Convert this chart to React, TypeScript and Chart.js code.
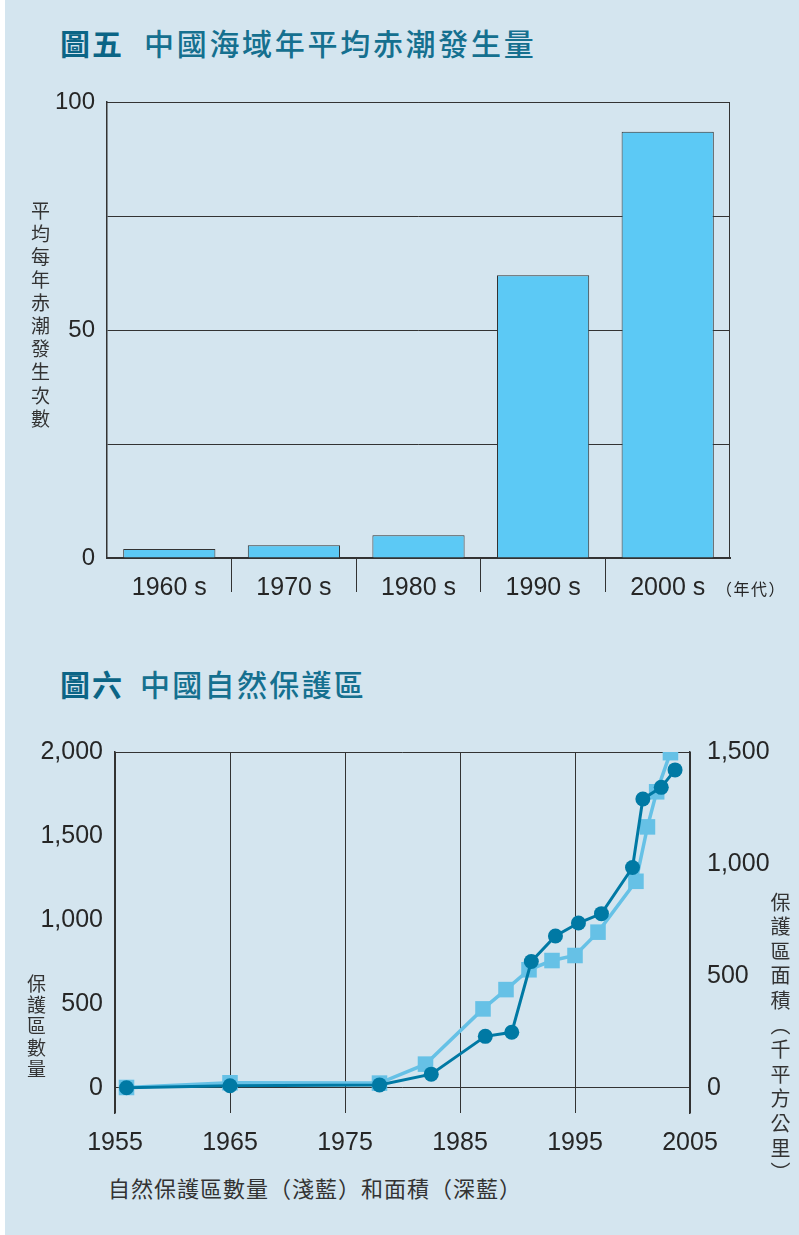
import React, { useEffect, useRef } from 'react';
import { Chart, registerables } from 'chart.js';

Chart.register(...registerables);

// ---------- Data: 圖五 ----------
const DECADES = ['1960 s', '1970 s', '1980 s', '1990 s', '2000 s'];
const RED_TIDE_AVG = [2, 2.8, 5, 62, 93.5];
const BAR_Y_TICKS = [0, 25, 50, 75, 100];
const BAR_Y_LABELED = [0, 50, 100];

// ---------- Data: 圖六 ----------
const COUNT_YEARS = [1956, 1965, 1978, 1982, 1987, 1989, 1991, 1993, 1995, 1997, 2000.3, 2001.3, 2002.1, 2003.3];
const COUNT_VALUES = [2, 30, 28, 141, 470, 585, 703, 758, 788, 927, 1230, 1554, 1763, 1996];
const AREA_YEARS = [1956, 1965, 1978, 1982.5, 1987.2, 1989.5, 1991.2, 1993.3, 1995.3, 1997.3, 2000, 2000.9, 2002.5, 2003.7];
const AREA_VALUES = [0, 9, 13, 61, 230, 248, 564, 678, 736, 778, 984, 1290, 1342, 1420];
const YEAR_TICKS = [1955, 1965, 1975, 1985, 1995, 2005];
const COUNT_TICKS = [0, 500, 1000, 1500, 2000];
const AREA_TICKS = [0, 500, 1000, 1500];

const BG = '#d4e5ef';
const BAR = '#5cc9f5';
const DARK = '#0079a4';
const LIGHT = '#66c1e6';
const LINE = '#333333';
const TXT = '#262626';
const TITLE_BOLD = '#0b6586';
const TITLE = '#15708f';
const NUM_FONT = "'Liberation Sans', Arial, sans-serif";
const CJK_FONT = "'Noto Sans CJK TC', 'Noto Sans CJK SC', sans-serif";

const frameRight = {
  id: 'frameRight',
  afterDraw(chart: any) {
    const { ctx, chartArea } = chart;
    ctx.save();
    ctx.strokeStyle = LINE;
    ctx.lineWidth = 1;
    ctx.beginPath();
    ctx.moveTo(chartArea.left, chartArea.top + 0.5);
    ctx.lineTo(chartArea.right - 0.5, chartArea.top + 0.5);
    ctx.lineTo(chartArea.right - 0.5, chartArea.bottom);
    ctx.stroke();
    ctx.restore();
  },
};

function BarChart() {
  const ref = useRef<HTMLCanvasElement>(null);
  useEffect(() => {
    const chart = new Chart(ref.current as HTMLCanvasElement, {
      type: 'bar',
      data: {
        labels: DECADES,
        datasets: [
          {
            data: RED_TIDE_AVG,
            backgroundColor: BAR,
            borderColor: LINE,
            borderWidth: 1,
            barPercentage: 0.74,
            categoryPercentage: 1,
          },
        ],
      },
      options: {
        animation: false,
        responsive: false,
        maintainAspectRatio: false,
        layout: { padding: { top: 32, right: 69, left: 0, bottom: 0 } },
        plugins: { legend: { display: false }, tooltip: { enabled: false } },
        scales: {
          x: {
            grid: {
              offset: true,
              drawOnChartArea: false,
              drawTicks: true,
              tickLength: 34,
              color: (ctx: any) => (ctx.type === 'tick' && ctx.index > 0 ? LINE : 'rgba(0,0,0,0)'),
              lineWidth: 1,
            },
            border: { display: true, color: LINE, width: 2 },
            ticks: {
              padding: -19,
              autoSkip: false,
              maxRotation: 0,
              color: TXT,
              font: { family: NUM_FONT, size: 25 },
            },
            afterFit: (s: any) => {
              s.height = 62;
            },
          },
          y: {
            min: 0,
            max: 100,
            afterBuildTicks: (a: any) => {
              a.ticks = BAR_Y_TICKS.map((v) => ({ value: v }));
            },
            ticks: {
              callback: (v: any) => (BAR_Y_LABELED.includes(Number(v)) ? String(v) : ''),
              padding: 12,
              color: TXT,
              font: { family: NUM_FONT, size: 24 },
            },
            grid: { color: LINE, lineWidth: 1, drawTicks: false },
            border: { display: true, color: LINE, width: 1.5 },
            afterFit: (s: any) => {
              s.width = 107;
            },
          },
        },
      },
      plugins: [frameRight],
    });
    return () => chart.destroy();
  }, []);
  return (
    <canvas
      ref={ref}
      width={799}
      height={550}
      style={{ position: 'absolute', left: 0, top: 70, width: 799, height: 550 }}
    />
  );
}

function LineChart() {
  const ref = useRef<HTMLCanvasElement>(null);
  useEffect(() => {
    const chart = new Chart(ref.current as HTMLCanvasElement, {
      type: 'line',
      data: {
        datasets: [
          {
            label: '面積',
            data: AREA_YEARS.map((x, i) => ({ x, y: AREA_VALUES[i] })),
            yAxisID: 'y2',
            borderColor: DARK,
            backgroundColor: DARK,
            borderWidth: 3,
            pointStyle: 'circle',
            pointRadius: 7.5,
            pointBorderWidth: 0,
            tension: 0,
          },
          {
            label: '數量',
            data: COUNT_YEARS.map((x, i) => ({ x, y: COUNT_VALUES[i] })),
            yAxisID: 'y',
            borderColor: LIGHT,
            backgroundColor: LIGHT,
            borderWidth: 3.5,
            pointStyle: 'rect',
            pointRadius: 11,
            pointBorderWidth: 0,
            tension: 0,
          },
        ],
      },
      options: {
        animation: false,
        responsive: false,
        maintainAspectRatio: false,
        layout: { padding: { top: 40, left: 0, right: 0, bottom: 0 } },
        plugins: { legend: { display: false }, tooltip: { enabled: false } },
        scales: {
          x: {
            type: 'linear',
            min: 1955,
            max: 2005,
            afterBuildTicks: (a: any) => {
              a.ticks = YEAR_TICKS.map((v) => ({ value: v }));
            },
            ticks: {
              callback: (v: any) => String(v),
              padding: 15,
              maxRotation: 0,
              autoSkip: false,
              color: TXT,
              font: { family: NUM_FONT, size: 25 },
            },
            grid: { color: LINE, lineWidth: 1, drawTicks: false },
            border: { display: false },
            afterFit: (s: any) => {
              s.height = 47;
            },
          },
          y: {
            position: 'left',
            min: -150,
            max: 2000,
            afterBuildTicks: (a: any) => {
              a.ticks = COUNT_TICKS.map((v) => ({ value: v }));
            },
            ticks: {
              callback: (v: any) => Number(v).toLocaleString('en-US'),
              padding: 12,
              color: TXT,
              font: { family: NUM_FONT, size: 25 },
            },
            grid: {
              color: (ctx: any) =>
                ctx.tick && (ctx.tick.value === 0 || ctx.tick.value === 2000) ? LINE : 'rgba(0,0,0,0)',
              lineWidth: 1,
              drawTicks: false,
            },
            border: { display: true, color: LINE, width: 1.5 },
            afterFit: (s: any) => {
              s.width = 115;
            },
          },
          y2: {
            position: 'right',
            min: -112.5,
            max: 1500,
            afterBuildTicks: (a: any) => {
              a.ticks = AREA_TICKS.map((v) => ({ value: v }));
            },
            ticks: {
              callback: (v: any) => Number(v).toLocaleString('en-US'),
              padding: 17,
              color: TXT,
              font: { family: NUM_FONT, size: 25 },
            },
            grid: { drawOnChartArea: false, drawTicks: false },
            border: { display: true, color: LINE, width: 1.5 },
            afterFit: (s: any) => {
              s.width = 109;
            },
          },
        },
      },
    });
    return () => chart.destroy();
  }, []);
  return (
    <canvas
      ref={ref}
      width={799}
      height={448}
      style={{ position: 'absolute', left: 0, top: 712, width: 799, height: 448 }}
    />
  );
}

const abs = (o: any): React.CSSProperties => ({ position: 'absolute', margin: 0, whiteSpace: 'nowrap', ...o });

export default function App() {
  return (
    <div style={{ position: 'absolute', left: 0, top: 0, width: 799, height: 1235, background: '#ffffff', overflow: 'hidden' }}>
      <div style={{ position: 'absolute', left: 5, top: 0, width: 794, height: 1235, background: BG }} />

      {/* 圖五 title */}
      <div style={abs({ left: 60, top: 26, fontFamily: CJK_FONT, fontSize: 30, lineHeight: '32px' })}>
        <span style={{ fontWeight: 700, color: TITLE_BOLD, letterSpacing: 2 }}>圖五</span>
        <span style={{ fontWeight: 500, color: TITLE, letterSpacing: 2.7, marginLeft: 20 }}>中國海域年平均赤潮發生量</span>
      </div>

      <BarChart />

      <div
        style={abs({
          left: 30,
          top: 201,
          fontFamily: CJK_FONT,
          fontSize: 19,
          lineHeight: '20px',
          letterSpacing: 4.1,
          color: '#333',
          writingMode: 'vertical-rl',
        })}
      >
        平均每年赤潮發生次數
      </div>
      <div style={abs({ left: 716, top: 578, fontFamily: CJK_FONT, fontSize: 16, lineHeight: '20px', letterSpacing: 1.5, color: TXT })}>
        （年代）
      </div>

      {/* 圖六 title */}
      <div style={abs({ left: 60, top: 667, fontFamily: CJK_FONT, fontSize: 30, lineHeight: '32px' })}>
        <span style={{ fontWeight: 700, color: TITLE_BOLD, letterSpacing: 2 }}>圖六</span>
        <span style={{ fontWeight: 500, color: TITLE, letterSpacing: 2.3, marginLeft: 16 }}>中國自然保護區</span>
      </div>

      <LineChart />

      <div
        style={abs({
          left: 26,
          top: 974,
          fontFamily: CJK_FONT,
          fontSize: 19,
          lineHeight: '20px',
          letterSpacing: 2.3,
          color: '#333',
          writingMode: 'vertical-rl',
        })}
      >
        保護區數量
      </div>
      <div
        style={abs({
          left: 770,
          top: 892,
          fontFamily: CJK_FONT,
          fontSize: 20,
          lineHeight: '20px',
          letterSpacing: 4.6,
          color: '#333',
          writingMode: 'vertical-rl',
        })}
      >
        保護區面積（千平方公里）
      </div>
      <div style={abs({ left: 108, top: 1175, fontFamily: CJK_FONT, fontSize: 22, lineHeight: '24px', letterSpacing: 1, color: '#333' })}>
        自然保護區數量（淺藍）和面積（深藍）
      </div>
    </div>
  );
}
